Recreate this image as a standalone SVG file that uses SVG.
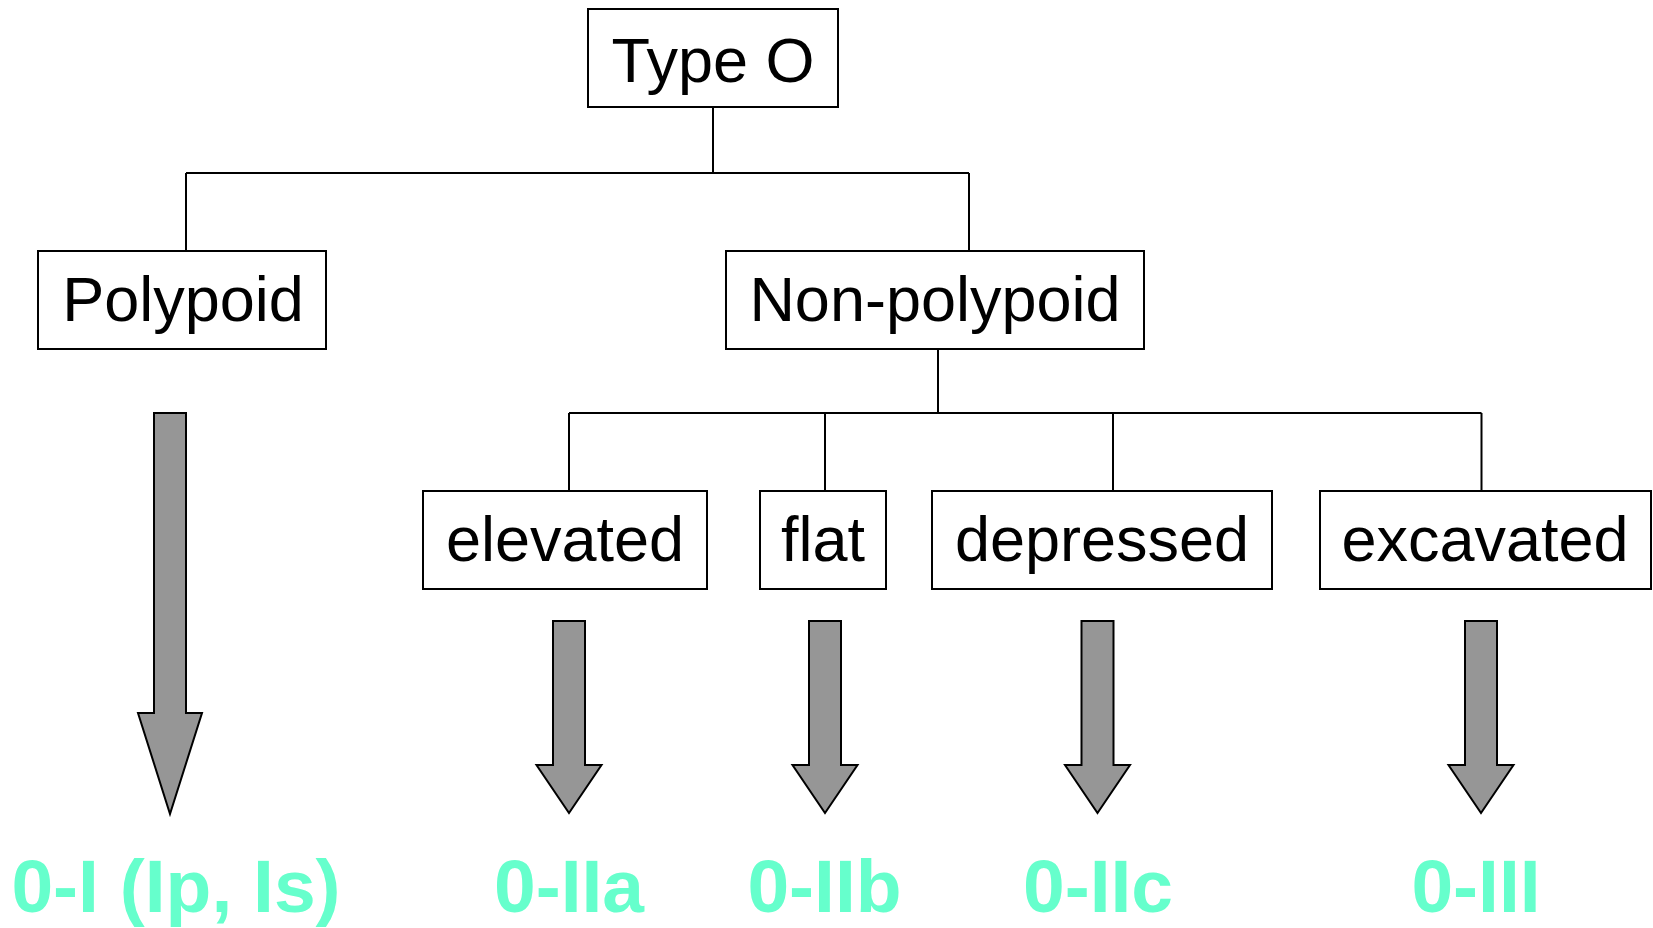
<svg xmlns="http://www.w3.org/2000/svg" width="1653" height="928" viewBox="0 0 1653 928">
  <style>
    .box { fill: #ffffff; stroke: #000000; stroke-width: 2; }
    .lbl { font-family: "Liberation Sans", Arial, sans-serif; font-size: 63px; fill: #000000; text-anchor: middle; }
    .wire { fill: none; stroke: #000000; stroke-width: 2; }
    .arrow { fill: #969696; stroke: #000000; stroke-width: 2; stroke-linejoin: miter; }
    .code { font-family: "Liberation Sans", Arial, sans-serif; font-size: 75px; font-weight: bold; fill: #66FFCC; text-anchor: middle; }
  </style>
  <defs>
    <!-- block arrow: shaft 32 wide, head 65 wide, head 48 tall, total 192 tall, origin at shaft top centre -->
    <polygon id="blockArrow" points="-16,0 16,0 16,144 32.5,144 0,192 -32.5,144 -16,144"/>
  </defs>

  <!-- tree connectors -->
  <g id="connectors" class="wire">
    <path d="M713,107 V173 M186,173 H969 M186,173 V251 M969,173 V251"/>
    <path d="M938,349 V413 M569,413 H1481.5 M569,413 V491 M825,413 V491 M1113,413 V491 M1481.5,413 V491"/>
  </g>

  <g id="node-type-o">
    <rect class="box" x="588" y="9" width="250" height="98"/>
    <text class="lbl" x="713" y="82" font-size="64">Type O</text>
  </g>
  <g id="node-polypoid">
    <rect class="box" x="38" y="251" width="288" height="98"/>
    <text class="lbl" x="183" y="321">Polypoid</text>
  </g>
  <g id="node-non-polypoid">
    <rect class="box" x="726" y="251" width="418" height="98"/>
    <text class="lbl" x="935" y="321">Non-polypoid</text>
  </g>
  <g id="node-elevated">
    <rect class="box" x="423" y="491" width="284" height="98"/>
    <text class="lbl" x="565" y="561">elevated</text>
  </g>
  <g id="node-flat">
    <rect class="box" x="760" y="491" width="126" height="98"/>
    <text class="lbl" x="823" y="561">flat</text>
  </g>
  <g id="node-depressed">
    <rect class="box" x="932" y="491" width="340" height="98"/>
    <text class="lbl" x="1102" y="561">depressed</text>
  </g>
  <g id="node-excavated">
    <rect class="box" x="1320" y="491" width="331" height="98"/>
    <text class="lbl" x="1485" y="561">excavated</text>
  </g>

  <!-- block arrows leading to the classification codes -->
  <g id="arrows" class="arrow">
    <polygon points="154,413 186,413 186,713 202,713 170,814 138,713 154,713"/>
    <use href="#blockArrow" x="569" y="621"/>
    <use href="#blockArrow" x="825" y="621"/>
    <use href="#blockArrow" x="1097.5" y="621"/>
    <use href="#blockArrow" x="1481" y="621"/>
  </g>

  <g id="codes">
    <text class="code" x="176" y="912">0-I (Ip, Is)</text>
    <text class="code" x="569" y="912">0-IIa</text>
    <text class="code" x="824.5" y="912">0-IIb</text>
    <text class="code" x="1098" y="912">0-IIc</text>
    <text class="code" x="1476" y="912">0-III</text>
  </g>
</svg>
